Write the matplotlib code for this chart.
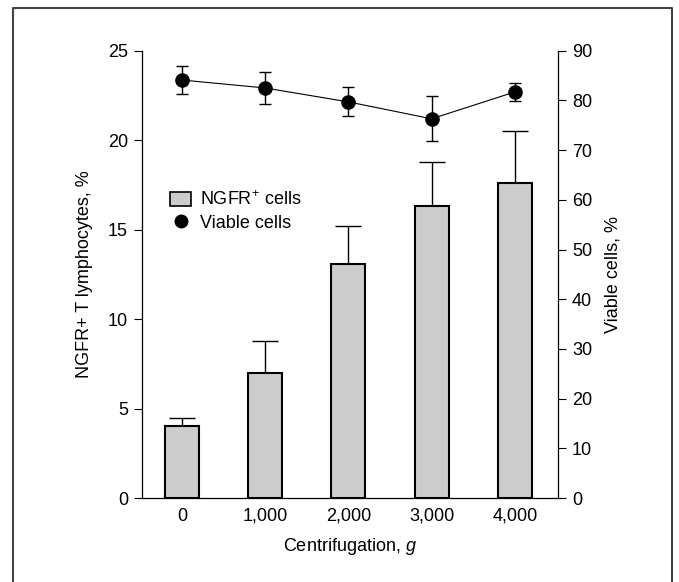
import matplotlib
matplotlib.use("Agg")
import matplotlib.pyplot as plt
from matplotlib.patches import Patch
from matplotlib.lines import Line2D
import numpy as np

plt.rcParams['font.family'] = ['Liberation Sans', 'DejaVu Sans']
plt.rcParams['mathtext.fontset'] = 'custom'
plt.rcParams['mathtext.it'] = 'Liberation Sans:italic'
plt.rcParams['mathtext.rm'] = 'Liberation Sans'

# --- data ---
categories = ["0", "1,000", "2,000", "3,000", "4,000"]
ngfr_pct = [4.0, 7.0, 13.1, 16.3, 17.6]
ngfr_err = [0.45, 1.8, 2.1, 2.5, 2.9]
viable_pct = [84.1, 82.5, 79.7, 76.3, 81.7]
viable_err = [2.8, 3.3, 2.9, 4.5, 1.8]

FS = 13

fig = plt.figure(figsize=(6.79, 5.82), dpi=100)
ax = fig.add_axes([0.209, 0.1443, 0.613, 0.7686])
ax2 = ax.twinx()

x = np.arange(len(categories))

# --- bars with upper error only ---
ax.bar(x, ngfr_pct, width=0.41, color='#cccccc', edgecolor='black', linewidth=1.5, zorder=2)
ax.errorbar(x, ngfr_pct, yerr=[np.zeros(len(x)), ngfr_err], fmt='none',
            ecolor='black', elinewidth=1, capsize=9.5, capthick=1, zorder=1)

# --- viable cells line ---
ax2.errorbar(x, viable_pct, yerr=viable_err, fmt='-o', color='black',
             markersize=9.5, linewidth=0.8, elinewidth=1, capsize=4.3, capthick=1)

ax.set_xlim(-0.48, 4.52)
ax.set_ylim(0, 25)
ax2.set_ylim(0, 90)
ax.set_xticks(x)
ax.set_xticklabels(categories)
ax.set_yticks(range(0, 26, 5))
ax2.set_yticks(range(0, 91, 10))

ax.tick_params(axis='x', length=0, pad=7, labelsize=FS)
ax.tick_params(axis='y', length=6, width=0.8, pad=4, labelsize=FS)
ax2.tick_params(axis='y', length=6, width=0.8, pad=4, labelsize=FS)

for s in ['top', 'right']:
    ax.spines[s].set_visible(False)
for s in ['top', 'left', 'bottom']:
    ax2.spines[s].set_visible(False)
for a in (ax, ax2):
    for s in a.spines.values():
        s.set_linewidth(0.9)

ax.set_ylabel("NGFR+ T lymphocytes, %", fontsize=FS, labelpad=11)
ax2.set_ylabel("Viable cells, %", fontsize=FS, labelpad=9)
ax.set_xlabel("Centrifugation, $\\it{g}$", fontsize=FS, labelpad=8)

# --- legend ---
handles = [Patch(facecolor='#cccccc', edgecolor='black', linewidth=1.2),
           Line2D([], [], marker='o', color='black', linestyle='none', markersize=9)]
ax.legend(handles, ["NGFR$^{+}$ cells", "Viable cells"], loc='upper left',
          bbox_to_anchor=(0.068, 0.688), frameon=False, fontsize=FS,
          handlelength=1.15, handleheight=0.8, handletextpad=0.5, labelspacing=0.3,
          borderpad=0, borderaxespad=0)

# --- outer frame (open at the bottom) ---
W, H = 679, 582
fx = [13 / W, 13 / W, 672 / W, 672 / W]
fy = [0, 1 - 8 / H, 1 - 8 / H, 0]
fig.add_artist(Line2D(fx, fy, transform=fig.transFigure, color='#444444', linewidth=1.5))

fig.savefig("out.png", dpi=100)
